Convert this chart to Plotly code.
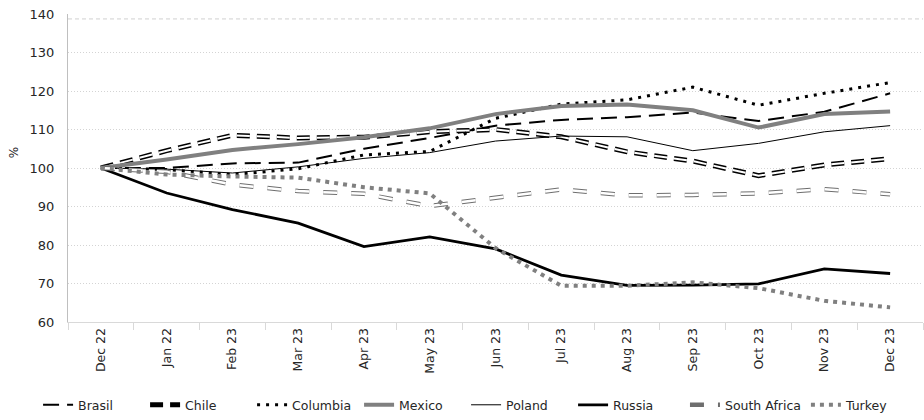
import plotly.graph_objects as go

# Monthly index levels (Dec 22 = 100)
months = ["Dec 22", "Jan 22", "Feb 23", "Mar 23", "Apr 23", "May 23", "Jun 23",
          "Jul 23", "Aug 23", "Sep 23", "Oct 23", "Nov 23", "Dec 23"]

brasil = [100, 100.0, 101.2, 101.4, 105.0, 107.8, 111.0, 112.5, 113.2, 114.4, 112.2, 114.6, 119.4]
chile = [100, 104.5, 108.5, 107.8, 108.0, 109.4, 110.0, 108.1, 104.2, 101.8, 98.0, 100.8, 102.4]
columbia = [100, 99.6, 98.3, 99.8, 103.4, 104.3, 112.9, 116.6, 117.7, 121.0, 116.3, 119.4, 122.2]
mexico = [100, 102.2, 104.7, 106.2, 108.0, 110.3, 114.0, 116.1, 116.5, 115.0, 110.5, 114.0, 114.7]
poland = [100, 99.7, 98.7, 100.3, 102.5, 104.0, 107.0, 108.3, 108.1, 104.5, 106.4, 109.4, 111.0]
russia = [100, 93.5, 89.2, 85.7, 79.6, 82.1, 79.0, 72.2, 69.5, 69.6, 69.9, 73.8, 72.6]
south_africa = [100, 99.0, 95.7, 94.0, 93.3, 90.1, 92.3, 94.4, 92.9, 93.0, 93.4, 94.5, 93.2]
turkey = [100, 98.3, 97.8, 97.5, 95.0, 93.4, 79.2, 69.4, 69.4, 70.3, 68.8, 65.5, 63.8]

FONT = "DejaVu Sans"
TXT = "#262626"
GREY = "#808080"

fig = go.Figure()


def add_line(name, values, color, width, dash="solid", legend=True, box="legend"):
    fig.add_trace(go.Scatter(
        x=months, y=values, name=name, mode="lines",
        line=dict(color=color, width=width, dash=dash),
        showlegend=legend, legendgroup=name, legend=box, hoverinfo="skip",
    ))


add_line("Brasil", brasil, "#000000", 2, "16px,8px")
# hollow dash: dark outer stroke with a white core on top
add_line("Chile", chile, "#000000", 5, "13px,7px")
add_line("Chile", chile, "#ffffff", 2, "13px,7px", legend=False)
add_line("Columbia", columbia, "#000000", 3, "3px,6px")
add_line("Mexico", mexico, GREY, 4)
add_line("Poland", poland, "#000000", 1)
add_line("Russia", russia, "#000000", 2.8)
add_line("South Africa", south_africa, "#6e6e6e", 4.5, "14px,14px", box="legend2")
add_line("South Africa", south_africa, "#ffffff", 2.5, "14px,14px", legend=False, box="legend2")
add_line("Turkey", turkey, GREY, 4, "4px,5px", box="legend2")

legend_common = dict(
    orientation="h", xanchor="left", y=-0.27, yanchor="middle",
    font=dict(family=FONT, size=12.5, color=TXT),
    itemwidth=30, tracegroupgap=0, bgcolor="rgba(0,0,0,0)",
)

fig.update_layout(
    width=924, height=420,
    margin=dict(l=68, r=1, t=14, b=98, autoexpand=False),
    paper_bgcolor="white", plot_bgcolor="white",
    font=dict(family=FONT, size=12, color=TXT),
    showlegend=True,
    legend=dict(x=-0.035, entrywidth=62, **legend_common),
    legend2=dict(x=0.7216, **legend_common),
    xaxis=dict(
        type="category", range=[-0.5, 12.5],
        showgrid=False, showline=True, linecolor="#d9d9d9", linewidth=1,
        ticks="outside", tickson="boundaries", ticklen=7, tickcolor="#d9d9d9",
        tickangle=-90, tickfont=dict(family=FONT, size=12.5, color=TXT),
        zeroline=False,
    ),
    yaxis=dict(
        range=[60, 140], dtick=10, tick0=60,
        showgrid=True, gridcolor="#d4d4d4", griddash="1px,2px", gridwidth=1,
        showline=True, linecolor="#bfbfbf", linewidth=1,
        ticks="", ticklabelstandoff=10,
        tickfont=dict(family=FONT, size=13, color=TXT),
        zeroline=False,
    ),
    annotations=[dict(
        text="%", xref="paper", yref="y", x=-0.074, y=104, showarrow=False,
        textangle=-90, font=dict(family=FONT, size=12, color=TXT),
    )],
    shapes=[dict(
        type="line", xref="paper", yref="paper", x0=0, x1=1, y0=0.984, y1=0.984,
        line=dict(color="#d0d0d0", width=1, dash="4px,3px"), layer="below",
    )],
)

fig.write_html("out.html")
